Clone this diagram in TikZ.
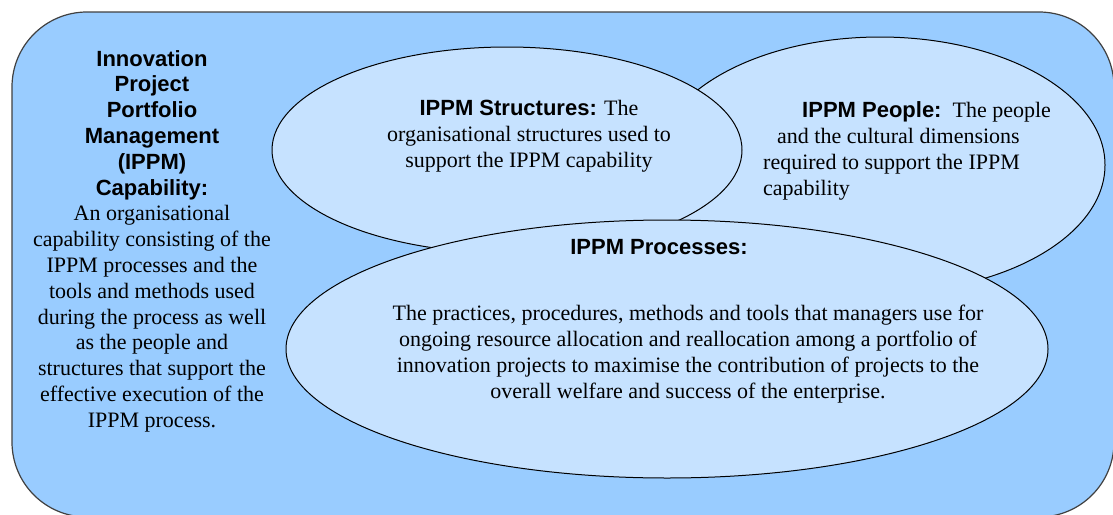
\documentclass[tikz,border=0pt]{standalone}
\usepackage{fontspec}
\setmainfont{Liberation Serif}
\setsansfont{Liberation Sans}
\usetikzlibrary{shapes.geometric}

\definecolor{outerblue}{RGB}{153,204,255}
\definecolor{innerblue}{RGB}{198,226,255}

\tikzset{
	frame/.style={draw=black!75, line width=1.2pt, fill=outerblue, rounded corners=75pt},
	bubble/.style={ellipse, draw=black, line width=1pt, fill=innerblue, inner sep=0pt, outer sep=0pt},
	txt/.style={inner sep=0pt, font=\fontsize{22}{25.8}\selectfont}
}
\newcommand{\hd}[1]{{\sffamily\bfseries #1}}

\begin{document}
\begin{tikzpicture}[x=1pt, y=-1pt]
	\useasboundingbox (0, 0) rectangle (1113, 514);
	\draw[frame] (12, 12) rectangle (1114, 517);

	% the three areas, back to front
	\node[bubble, minimum width=450pt, minimum height=256pt]	(people)	at (880, 165)	{};
	\node[bubble, minimum width=470pt, minimum height=206pt]	(struct)	at (507, 150)	{};
	\node[bubble, minimum width=762pt, minimum height=258pt]	(proc)		at (667, 349)	{};

	\node[txt, align=center]	(cap)	at (152, 241)	{\hd{Innovation}\\ \hd{Project}\\ \hd{Portfolio}\\ \hd{Management}\\ \hd{(IPPM)}\\ \hd{Capability:}\\
		An organisational\\ capability consisting of the\\ IPPM processes and the\\ tools and methods used\\
		during the process as well\\ as the people and\\ structures that support the\\ effective execution of the\\ IPPM process.};

	\node[txt, align=center]	(structtxt)	at (529, 136)	{\hd{IPPM Structures:} The\\ organisational structures used to\\ support the IPPM capability};

	\node[txt, align=left, anchor=west]	(peopletxt)	at (763, 151)	{\hspace*{39pt}\hd{IPPM People:}\ \ The people\\ \hspace*{14pt}and the cultural dimensions\\ required to support the IPPM\\ capability};

	\node[txt]	(proctitle)	at (659, 247)	{\hd{IPPM Processes:}};
	\node[txt, align=center]	(proctxt)	at (688, 354)	{The practices, procedures, methods and tools that managers use for\\
		ongoing resource allocation and reallocation among a portfolio of\\ innovation projects to maximise the contribution of projects to the\\
		overall welfare and success of the enterprise.};
\end{tikzpicture}
\end{document}
